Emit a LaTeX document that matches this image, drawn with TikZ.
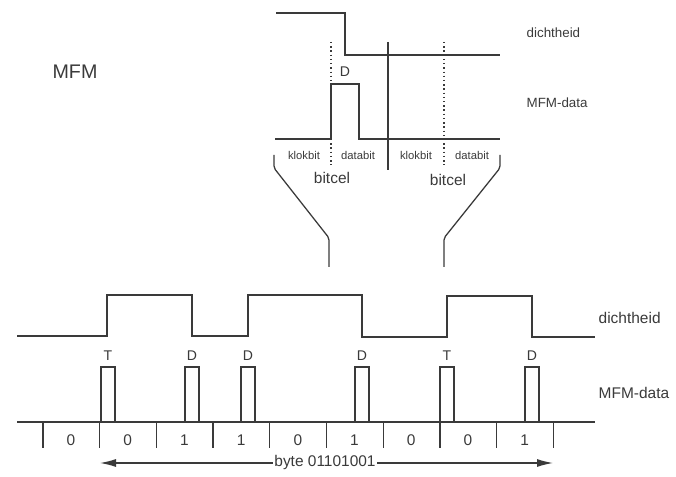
\documentclass[tikz,border=0pt]{standalone}
\usepackage{fontspec}
\setmainfont{Liberation Sans}
\usepackage{tikz}
\usetikzlibrary{positioning,arrows.meta}
\definecolor{ink}{HTML}{3A3A3A}
\tikzset{
  signal/.style={draw=ink, line width=1pt},
  pulse/.style={draw=ink, line width=1pt},
  cellline/.style={draw=ink, line width=0.9pt},
  dotline/.style={draw=ink, line width=1pt, dotted},
  sigtext/.style={text=ink, inner sep=1pt, anchor=west, font=\fontsize{9.5}{11}\selectfont},
  bigsigtext/.style={text=ink, inner sep=1pt, anchor=west, font=\fontsize{11}{13}\selectfont},
  titletext/.style={text=ink, inner sep=1pt, font=\fontsize{14}{16}\selectfont},
  bitpart/.style={text=ink, inner sep=1pt, font=\fontsize{8}{9}\selectfont},
  celltext/.style={text=ink, inner sep=1pt, font=\fontsize{11}{13}\selectfont},
  marker/.style={text=ink, inner sep=1pt, font=\fontsize{10}{12}\selectfont},
  bitdigit/.style={text=ink, inner sep=1pt, font=\fontsize{11}{13}\selectfont},
  bytetext/.style={text=ink, fill=white, inner sep=1pt, font=\fontsize{11}{13}\selectfont},
  byteflow/.style={-{Latex[length=4mm,width=2mm]}, draw=ink, line width=0.9pt}
}
\begin{document}
\begin{tikzpicture}[x=0.025cm, y=-0.025cm]
\useasboundingbox (0,0) rectangle (676,477);
\node[titletext] (mfm) at (75,72) {MFM};
% one bit cell, enlarged
\draw[signal] (276,13) -- (345,13) -- (345,55) -- (500,55);
\draw[signal] (275,139) -- (331,139) -- (331,84) -- (359,84) -- (359,139) -- (500,139);
\draw[dotline] (331,42) -- (331,165);
\draw[dotline] (444,42) -- (444,165);
\draw[cellline] (388,42) -- (388,170);
\node[marker] (d top) at (345,72) {D};
\node[bitpart] (klok1) at (304,155) {klokbit};
\node[bitpart] (data1) at (358,155) {databit};
\node[bitpart] (klok2) at (416,155) {klokbit};
\node[bitpart] (data2) at (472,155) {databit};
\node[celltext] (cel1) at (332,178) {bitcel};
\node[celltext] (cel2) at (448,180) {bitcel};
\node[sigtext] (dens top) at (525,33) {dichtheid};
\node[sigtext] (data top) at (525,103) {MFM-data};
\draw[cellline, rounded corners=1.5pt] (274,155) -- (274,168) -- (329,238) -- (329,267);
\draw[cellline, rounded corners=1.5pt] (500,155) -- (500,168) -- (444,238) -- (444,267);
% the whole byte
\draw[signal] (17,336) -- (107,336) -- (107,295) -- (192,295) -- (192,336) -- (248,336)
  -- (248,295) -- (362,295) -- (362,337) -- (447,337) -- (447,296) -- (532,296)
  -- (532,337) -- (595,337);
\draw[signal] (17,422) -- (595,422);
\foreach \x/\m in {101/T,185/D,241/D,355/D,440/T,525/D} {
  \draw[pulse] (\x,422) -- (\x,367) -- (\x+14,367) -- (\x+14,422);
  \node[marker] (mark\x) at (\x+7,356) {\m};
}
\foreach \i in {0,...,9}
  \draw[cellline] ({43+56.7*\i},422) -- ++(0,26);
\foreach \b [count=\i from 0] in {0,0,1,1,0,1,0,0,1}
  \node[bitdigit] (bit\i) at ({71+56.7*\i},440) {\b};
\node[bigsigtext] (dens bot) at (597,318) {dichtheid};
\node[bigsigtext] (data bot) at (597,393) {MFM-data};
\coordinate (byte start) at (100,463);
\coordinate (byte end) at (553,463);
\node[bytetext] (byte) at (325,463) {byte 01101001};
\draw[byteflow] (byte) -- (byte start);
\draw[byteflow] (byte) -- (byte end);
\end{tikzpicture}
\end{document}
